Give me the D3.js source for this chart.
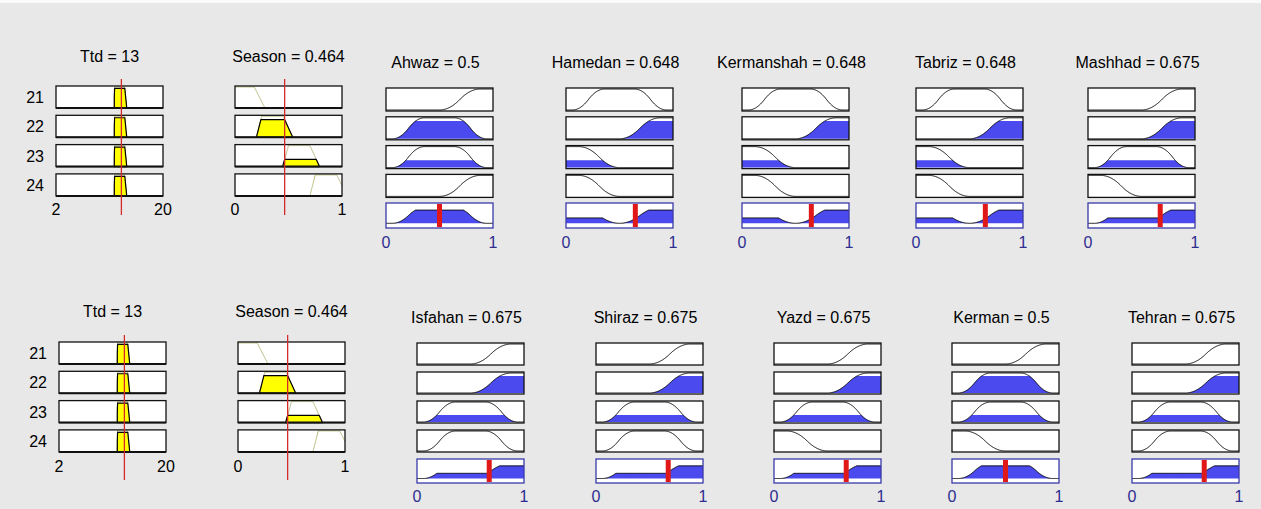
<!DOCTYPE html>
<html>
<head>
<meta charset="utf-8">
<script src="https://cdn.jsdelivr.net/npm/d3@7"></script>
<style>
body { margin: 0; background: #e8e8e8; }
text { font-family: "Liberation Sans", Arial, sans-serif; font-size: 16px; }
</style>
</head>
<body>
<svg id="svg_ruleview"></svg>
<script>
let W = 1261;
let H = 509;

// rule numbers shown left of the input columns
let ruleLabels = ["21", "22", "23", "24"];

// inputs
let ttdValue = 13;
let ttdRange = [2, 20];
let ttdTicks = ["2", "20"];
let ttdMfs = [[11.8, 11.82, 13.55, 13.9], [11.8, 11.82, 13.55, 13.9], [11.8, 11.82, 13.55, 13.9], [11.8, 11.82, 13.55, 13.9]];
let ttdDegree = [0.93, 0.93, 0.93, 0.93];

let seasonValue = 0.464;
let seasonRange = [0, 1];
let seasonTicks = ["0", "1"];
let seasonMfs = [[-0.1, 0, 0.18, 0.28], [0.2, 0.25, 0.45, 0.54], [0.445, 0.5, 0.7, 0.79], [0.7, 0.75, 0.95, 1.05]];
let seasonDegree = [1, 1, 1, 1];

// outputs
let cities = ["Ahwaz", "Hamedan", "Kermanshah", "Tabriz", "Mashhad", "Isfahan", "Shiraz", "Yazd", "Kerman", "Tehran"];
let cityValues = [0.5, 0.648, 0.648, 0.648, 0.675, 0.675, 0.675, 0.675, 0.5, 0.675];
let cityRules = [
    ["H", "M", "M", "H"],
    ["M", "H", "L", "L"],
    ["M", "H", "L", "L"],
    ["M", "H", "L", "L"],
    ["H", "H", "M", "L"],
    ["H", "H", "M", "M"],
    ["H", "H", "M", "M"],
    ["H", "H", "M", "L"],
    ["H", "M", "M", "L"],
    ["H", "H", "M", "M"]
];
let outTicks = ["0", "1"];
let outMfs = {L: [0.12, 0.5], M: [0.06, 0.36, 0.64, 0.94], H: [0.5, 0.88]};

// layout of the two screenshots
let blocks = [
    {inX: [56, 235], inY: 86, inTitle: 62, inTick: 215, lineTop: 79, lineBot: 215,
     outX: [386, 566, 742, 916, 1088], outY: 88, outPitch: 28.8, outH: 23, aggY: 203, aggH: 25,
     outTitle: 68, outTick: 248, cities: [0, 1, 2, 3, 4]},
    {inX: [59, 238], inY: 342, inTitle: 317, inTick: 472, lineTop: 335, lineBot: 480,
     outX: [417, 596, 774, 952, 1132], outY: 343, outPitch: 29, outH: 22, aggY: 459, aggH: 24,
     outTitle: 323, outTick: 502, cities: [5, 6, 7, 8, 9]}
];
let boxW = 107;
let inH = 22;
let inPitch = 29.3;

function trapmf(x, p) {
    if (x <= p[0] || x >= p[3]) return 0;
    if (x < p[1]) return (x - p[0]) / (p[1] - p[0]);
    if (x <= p[2]) return 1;
    return (p[3] - x) / (p[3] - p[2]);
}
function smf(x, a, b) {
    if (x <= a) return 0;
    if (x >= b) return 1;
    let m = (a + b) / 2;
    if (x <= m) return 2 * Math.pow((x - a) / (b - a), 2);
    return 1 - 2 * Math.pow((x - b) / (b - a), 2);
}
function outMf(type, x) {
    let p = outMfs[type];
    if (type === "L") return 1 - smf(x, p[0], p[1]);
    if (type === "H") return smf(x, p[0], p[1]);
    return x <= p[2] ? smf(x, p[0], p[1]) : 1 - smf(x, p[2], p[3]);
}

// firing strength of each rule
let strength = ruleLabels.map(function (r, i) {
    return Math.min(ttdDegree[i], trapmf(seasonValue, seasonMfs[i]));
});

let svg = d3.select("#svg_ruleview").attr("width", W).attr("height", H);
svg.append("rect").attr("width", W).attr("height", H).attr("fill", "#e8e8e8");
svg.append("rect").attr("width", W).attr("height", 3).attr("fill", "#fafafa");

function drawInput(g, x0, block, range, ticks, value, mfs, degrees, label) {
    let x = d3.scaleLinear().domain(range).range([x0, x0 + boxW]);
    let xs = d3.range(0, 401).map(function (k) { return range[0] + (range[1] - range[0]) * k / 400; });
    g.append("text").attr("x", x0 + boxW / 2).attr("y", block.inTitle)
        .attr("text-anchor", "middle").text(label + " = " + value);
    mfs.forEach(function (p, i) {
        let top = block.inY + i * inPitch;
        let y = d3.scaleLinear().domain([0, 1]).range([top + inH, top + 1]);
        g.append("rect").attr("x", x0).attr("y", top).attr("width", boxW).attr("height", inH)
            .attr("fill", "white");
        g.append("path")
            .attr("d", d3.line().x(function (d) { return x(d); }).y(function (d) { return y(trapmf(d, p)); })(xs))
            .attr("fill", "none").attr("stroke", "#b8b87a").attr("stroke-width", 1);
        let deg = Math.min(degrees[i], trapmf(value, p));
        if (deg > 0) {
            let pts = xs.filter(function (d) { return trapmf(d, p) > 0; });
            pts = [pts[0]].concat(pts, [pts[pts.length - 1]]);
            g.append("path")
                .attr("d", d3.area().x(function (d) { return x(d); }).y0(y(0))
                    .y1(function (d) { return y(Math.min(trapmf(d, p), deg)); })(pts))
                .attr("fill", "#ffff00").attr("stroke", "#000").attr("stroke-width", 1.2);
        }
        g.append("rect").attr("x", x0).attr("y", top).attr("width", boxW).attr("height", inH)
            .attr("fill", "none").attr("stroke", "#111").attr("stroke-width", 1.3);
        g.append("line").attr("x1", x0).attr("x2", x0 + boxW).attr("y1", top + inH).attr("y2", top + inH)
            .attr("stroke", "#111").attr("stroke-width", 2);
    });
    g.append("text").attr("x", x0).attr("y", block.inTick).attr("text-anchor", "middle").text(ticks[0]);
    g.append("text").attr("x", x0 + boxW).attr("y", block.inTick).attr("text-anchor", "middle").text(ticks[1]);
    g.append("line").attr("x1", x(value)).attr("x2", x(value))
        .attr("y1", block.lineTop).attr("y2", block.lineBot)
        .attr("stroke", "#d42a2a").attr("stroke-width", 1.3);
}

function drawOutput(g, x0, block, c) {
    let x = d3.scaleLinear().domain([0, 1]).range([x0, x0 + boxW]);
    let xs = d3.range(0, 301).map(function (k) { return k / 300; });
    let types = cityRules[c];
    g.append("text").attr("x", x0 + boxW / 2 - 4).attr("y", block.outTitle)
        .attr("text-anchor", "middle").text(cities[c] + " = " + cityValues[c]);
    types.forEach(function (t, i) {
        let top = block.outY + i * block.outPitch;
        let h = block.outH;
        let y = d3.scaleLinear().domain([0, 1]).range([top + h - 1, top + 1]);
        g.append("rect").attr("x", x0).attr("y", top).attr("width", boxW).attr("height", h)
            .attr("fill", "white");
        if (strength[i] > 0) {
            g.append("path")
                .attr("d", d3.area().x(function (d) { return x(d); }).y0(y(0))
                    .y1(function (d) { return y(Math.min(outMf(t, d), strength[i])); })(xs))
                .attr("fill", "#4a4aee");
        }
        g.append("path")
            .attr("d", d3.line().x(function (d) { return x(d); }).y(function (d) { return y(outMf(t, d)); })(xs))
            .attr("fill", "none").attr("stroke", "#000").attr("stroke-width", 1);
        g.append("rect").attr("x", x0).attr("y", top).attr("width", boxW).attr("height", h)
            .attr("fill", "none").attr("stroke", "#111").attr("stroke-width", 1.3);
    });
    // aggregated output
    let ay = d3.scaleLinear().domain([-0.3, 1.3]).range([block.aggY + block.aggH, block.aggY]);
    let agg = function (d) {
        return d3.max(types, function (t, i) { return Math.min(outMf(t, d), strength[i]); });
    };
    g.append("rect").attr("x", x0).attr("y", block.aggY).attr("width", boxW).attr("height", block.aggH)
        .attr("fill", "white");
    g.append("path")
        .attr("d", d3.area().x(function (d) { return x(d); }).y0(ay(0)).y1(function (d) { return ay(agg(d)); })(xs))
        .attr("fill", "#4a4aee");
    g.append("path")
        .attr("d", d3.line().x(function (d) { return x(d); }).y(function (d) { return ay(agg(d)); })(xs))
        .attr("fill", "none").attr("stroke", "#000").attr("stroke-width", 1);
    g.append("rect").attr("x", x0).attr("y", block.aggY).attr("width", boxW).attr("height", block.aggH)
        .attr("fill", "none").attr("stroke", "#3a3aa8").attr("stroke-width", 1.3);
    g.append("line").attr("x1", x(cityValues[c])).attr("x2", x(cityValues[c]))
        .attr("y1", block.aggY + 1).attr("y2", block.aggY + block.aggH - 1)
        .attr("stroke", "#e01818").attr("stroke-width", 5);
    g.append("text").attr("x", x0).attr("y", block.outTick).attr("text-anchor", "middle")
        .attr("fill", "#2e2e90").text(outTicks[0]);
    g.append("text").attr("x", x0 + boxW).attr("y", block.outTick).attr("text-anchor", "middle")
        .attr("fill", "#2e2e90").text(outTicks[1]);
}

blocks.forEach(function (block) {
    let g = svg.append("g");
    ruleLabels.forEach(function (r, i) {
        g.append("text").attr("x", block.inX[0] - 12).attr("y", block.inY + i * inPitch + inH / 2 + 6)
            .attr("text-anchor", "end").text(r);
    });
    drawInput(g, block.inX[0], block, ttdRange, ttdTicks, ttdValue, ttdMfs, ttdDegree, "Ttd");
    drawInput(g, block.inX[1], block, seasonRange, seasonTicks, seasonValue, seasonMfs, seasonDegree, "Season");
    block.cities.forEach(function (c, k) {
        drawOutput(g, block.outX[k], block, c);
    });
});
</script>
</body>
</html>
